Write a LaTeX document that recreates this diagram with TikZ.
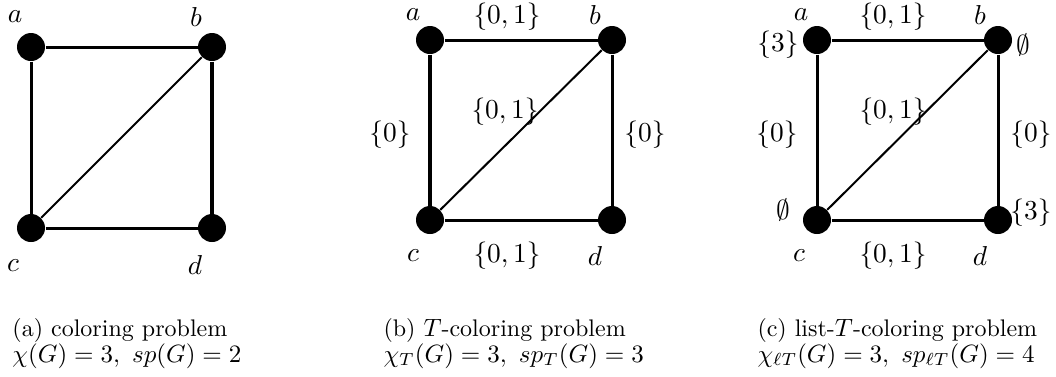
\documentclass[tikz,border=0pt]{standalone}
\begin{document}
\begin{tikzpicture}[x=0.4pt,y=-0.4pt,
  vtx/.style={circle,fill=black,inner sep=0pt,minimum size=11.2pt},
  lbl/.style={inner sep=0pt,anchor=center,font=\fontsize{11}{13}\selectfont},
  edg/.style={line width=1.2pt},
  thk/.style={line width=1.7pt},
  diag/.style={line width=0.8pt},
  captxt/.style={inner sep=0pt,anchor=base west,font=\fontsize{9.6}{11.5}\selectfont}]
\useasboundingbox (0,0) rectangle (1056,376);
% (a)
\node[vtx] (a1) at (31,47) {};
\node[vtx] (b1) at (212,47) {};
\node[vtx] (c1) at (31,228) {};
\node[vtx] (d1) at (212,228) {};
\draw[edg] (a1) -- (b1);
\draw[edg] (c1) -- (d1);
\draw[edg] (a1) -- (c1);
\draw[thk] (b1) -- (d1);
\draw[diag] (c1) -- (b1);
\node[lbl] (la1) at (15,17) {$a$};
\node[lbl] (lb1) at (196,17) {$b$};
\node[lbl] (lc1) at (13,266) {$c$};
\node[lbl] (ld1) at (195,265) {$d$};
% (b)
\node[vtx] (a2) at (430,40) {};
\node[vtx] (b2) at (612,40) {};
\node[vtx] (c2) at (430,220) {};
\node[vtx] (d2) at (612,220) {};
\draw[edg] (a2) -- (b2);
\draw[edg] (c2) -- (d2);
\draw[thk] (a2) -- (c2);
\draw[edg] (b2) -- (d2);
\draw[diag] (c2) -- (b2);
\node[lbl] (la2) at (413,15) {$a$};
\node[lbl] (lb2) at (595,15) {$b$};
\node[lbl] (lc2) at (413,256) {$c$};
\node[lbl] (ld2) at (595,256) {$d$};
\node[lbl] (eab2) at (507,17) {$\{0,1\}$};
\node[lbl] (ecd2) at (507,256) {$\{0,1\}$};
\node[lbl] (eac2) at (390,135) {$\{0\}$};
\node[lbl] (ebd2) at (645,135) {$\{0\}$};
\node[lbl] (ebc2) at (505,112) {$\{0,1\}$};
% (c)
\node[vtx] (a3) at (817,40) {};
\node[vtx] (b3) at (998,40) {};
\node[vtx] (c3) at (817,220) {};
\node[vtx] (d3) at (998,220) {};
\draw[edg] (a3) -- (b3);
\draw[edg] (c3) -- (d3);
\draw[edg] (a3) -- (c3);
\draw[edg] (b3) -- (d3);
\draw[diag] (c3) -- (b3);
\node[lbl] (la3) at (801,15) {$a$};
\node[lbl] (lb3) at (980,15) {$b$};
\node[lbl] (lc3) at (799,256) {$c$};
\node[lbl] (ld3) at (980,256) {$d$};
\node[lbl] (eab3) at (893,17) {$\{0,1\}$};
\node[lbl] (ecd3) at (893,256) {$\{0,1\}$};
\node[lbl] (eac3) at (777,135) {$\{0\}$};
\node[lbl] (ebd3) at (1031,135) {$\{0\}$};
\node[lbl] (ebc3) at (893,112) {$\{0,1\}$};
\node[lbl] (La3) at (778,45) {$\{3\}$};
\node[lbl] (Lb3) at (1023,45) {$\emptyset$};
\node[lbl] (Lc3) at (783,210) {$\emptyset$};
\node[lbl] (Ld3) at (1031,213) {$\{3\}$};
% captions
\node[captxt] (t1a) at (12,336) {(a) coloring problem};
\node[captxt] (t1b) at (12,362) {$\chi(G)=3,\ sp(G)=2$};
\node[captxt] (t2a) at (383,336) {(b) $T$-coloring problem};
\node[captxt] (t2b) at (383,362) {$\chi_T(G)=3,\ sp_T(G)=3$};
\node[captxt] (t3a) at (757,336) {(c) list-$T$-coloring problem};
\node[captxt] (t3b) at (757,362) {$\chi_{\ell T}(G)=3,\ sp_{\ell T}(G)=4$};
\end{tikzpicture}
\end{document}
